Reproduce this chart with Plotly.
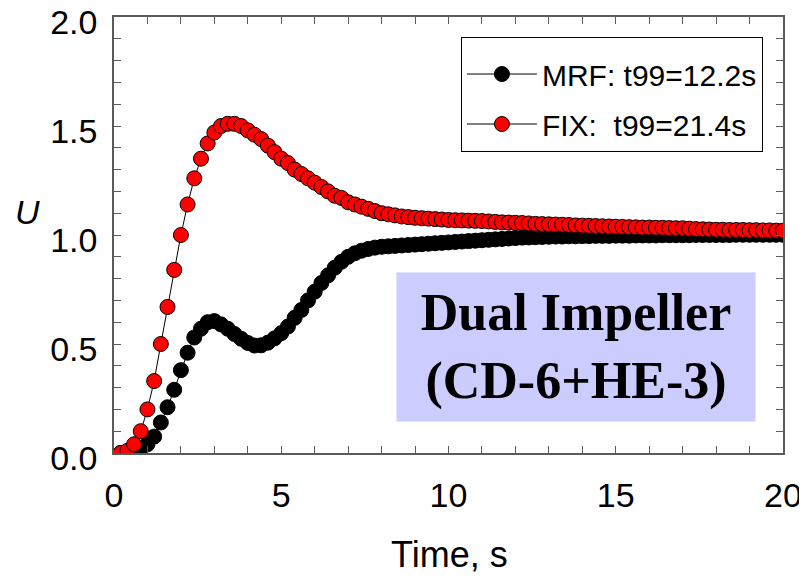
import plotly.graph_objects as go

TIME = [0.2, 0.4, 0.6, 0.8, 1.0, 1.2, 1.4, 1.6, 1.8, 2.0,
        2.2, 2.4, 2.6, 2.8, 3.0, 3.2, 3.4, 3.6, 3.8, 4.0,
        4.2, 4.4, 4.6, 4.8, 5.0, 5.2, 5.4, 5.6, 5.8, 6.0,
        6.2, 6.4, 6.6, 6.8, 7.0, 7.2, 7.4, 7.6, 7.8, 8.0,
        8.2, 8.4, 8.6, 8.8, 9.0, 9.2, 9.4, 9.6, 9.8, 10.0,
        10.2, 10.4, 10.6, 10.8, 11.0, 11.2, 11.4, 11.6, 11.8, 12.0,
        12.2, 12.4, 12.6, 12.8, 13.0, 13.2, 13.4, 13.6, 13.8, 14.0,
        14.2, 14.4, 14.6, 14.8, 15.0, 15.2, 15.4, 15.6, 15.8, 16.0,
        16.2, 16.4, 16.6, 16.8, 17.0, 17.2, 17.4, 17.6, 17.8, 18.0,
        18.2, 18.4, 18.6, 18.8, 19.0, 19.2, 19.4, 19.6, 19.8, 20.0]

U_MRF = [0.000, 0.002, 0.008, 0.020, 0.040, 0.075, 0.140, 0.210, 0.290, 0.380,
         0.460, 0.530, 0.570, 0.600, 0.605, 0.590, 0.570, 0.546, 0.524, 0.505,
         0.493, 0.494, 0.506, 0.526, 0.550, 0.580, 0.620, 0.656, 0.700, 0.740,
         0.780, 0.815, 0.850, 0.877, 0.900, 0.916, 0.928, 0.936, 0.942, 0.946,
         0.948, 0.950, 0.952, 0.954, 0.956, 0.958, 0.960, 0.962, 0.964, 0.966,
         0.968, 0.970, 0.972, 0.974, 0.976, 0.978, 0.980, 0.982, 0.984, 0.986,
         0.988, 0.989, 0.990, 0.991, 0.992, 0.993, 0.993, 0.994, 0.994, 0.995,
         0.995, 0.996, 0.996, 0.996, 0.997, 0.997, 0.997, 0.998, 0.998, 0.998,
         0.998, 0.999, 0.999, 0.999, 0.999, 0.999, 1.000, 1.000, 1.000, 1.000,
         1.000, 1.000, 1.001, 1.001, 1.001, 1.001, 1.001, 1.001, 1.001, 1.001]

U_FIX = [0.000, 0.010, 0.040, 0.100, 0.200, 0.330, 0.500, 0.670, 0.840, 1.000,
         1.140, 1.260, 1.350, 1.420, 1.470, 1.500, 1.510, 1.510, 1.500, 1.480,
         1.460, 1.440, 1.410, 1.380, 1.350, 1.330, 1.300, 1.280, 1.260, 1.240,
         1.220, 1.200, 1.180, 1.170, 1.150, 1.140, 1.130, 1.120, 1.110, 1.100,
         1.095, 1.090, 1.085, 1.082, 1.079, 1.077, 1.075, 1.073, 1.071, 1.069,
         1.068, 1.067, 1.066, 1.065, 1.064, 1.062, 1.060, 1.058, 1.057, 1.056,
         1.055, 1.053, 1.051, 1.050, 1.049, 1.048, 1.047, 1.046, 1.044, 1.043,
         1.042, 1.041, 1.040, 1.039, 1.038, 1.037, 1.036, 1.035, 1.034, 1.034,
         1.033, 1.033, 1.032, 1.031, 1.031, 1.029, 1.027, 1.026, 1.025, 1.024,
         1.024, 1.023, 1.023, 1.023, 1.022, 1.022, 1.021, 1.021, 1.020, 1.020]

SERIES_NAMES = ["MRF: t99=12.2s", "FIX:  t99=21.4s"]
X_TICKS = [0, 5, 10, 15, 20]
Y_TICKS = [0.0, 0.5, 1.0, 1.5, 2.0]
X_TITLE = "Time, s"
Y_TITLE = "U"
ANNOTATION_TEXT = "Dual Impeller<br>(CD-6+HE-3)"

SANS = "Liberation Sans, Arial, sans-serif"
SERIF = "Liberation Serif, Times New Roman, serif"
AXIS_COLOR = "#5a5a5a"

fig = go.Figure()
fig.add_trace(go.Scatter(
    x=TIME, y=U_MRF, name=SERIES_NAMES[0], mode="lines+markers",
    legendgroup="a",
    line=dict(color="black", width=1),
    marker=dict(symbol="circle", size=15, color="black",
                line=dict(color="black", width=1)),
))
fig.add_trace(go.Scatter(
    x=TIME, y=U_FIX, name=SERIES_NAMES[1], mode="lines+markers",
    legendgroup="b",
    line=dict(color="black", width=1),
    marker=dict(symbol="circle", size=15, color="#ff0000",
                line=dict(color="black", width=1)),
))

axis_common = dict(
    showline=True, linecolor=AXIS_COLOR, linewidth=1.5, mirror="ticks",
    ticks="inside", ticklen=7, tickcolor=AXIS_COLOR, tickwidth=1,
    showgrid=False, zeroline=False, automargin=False,
    ticklabeloverflow="allow",
    tickfont=dict(family=SANS, size=34, color="black"),
)

# The page body has an 8px default margin, so the figure is sized to fit.
fig.update_layout(
    width=799, height=578,
    margin=dict(l=106, r=24, t=9, b=133),
    paper_bgcolor="white", plot_bgcolor="white",
    showlegend=True,
    legend=dict(
        x=0.970, y=0.955, xanchor="right", yanchor="top",
        bordercolor="black", borderwidth=1, bgcolor="white",
        font=dict(family=SANS, size=30, color="black"),
        tracegroupgap=8, itemwidth=70,
        title=dict(text=" ", font=dict(size=8)),
    ),
    xaxis=dict(
        axis_common,
        range=[0, 20],
        tickvals=X_TICKS, ticktext=[str(v) for v in X_TICKS],
        minor=dict(dtick=1, ticks="inside", ticklen=7, tickcolor=AXIS_COLOR),
        ticklabelstandoff=11,
    ),
    yaxis=dict(
        axis_common,
        range=[0, 2.0],
        tickvals=Y_TICKS, ticktext=[f"{v:.1f}" for v in Y_TICKS],
        minor=dict(dtick=0.1, ticks="inside", ticklen=7, tickcolor=AXIS_COLOR),
        ticklabelstandoff=8,
        ticklabelshift=5,
    ),
    annotations=[
        dict(
            text="<b>" + ANNOTATION_TEXT + "</b>",
            xref="paper", yref="paper", x=0.6906, y=0.2431,
            xanchor="center", yanchor="middle",
            width=358, height=148, borderpad=0,
            bgcolor="#ccccff", showarrow=False,
            font=dict(family=SERIF, size=52, color="black"),
        ),
        dict(
            text=X_TITLE, xref="paper", yref="paper", x=0.502, y=-0.232,
            xanchor="center", yanchor="middle", showarrow=False,
            font=dict(family=SANS, size=36, color="black"),
        ),
        dict(
            text="<i>" + Y_TITLE + "</i>", xref="paper", yref="paper",
            x=-0.1286, y=0.5528, xanchor="center", yanchor="middle",
            showarrow=False,
            font=dict(family=SANS, size=34, color="black"),
        ),
    ],
)

fig.write_html("out.html")
